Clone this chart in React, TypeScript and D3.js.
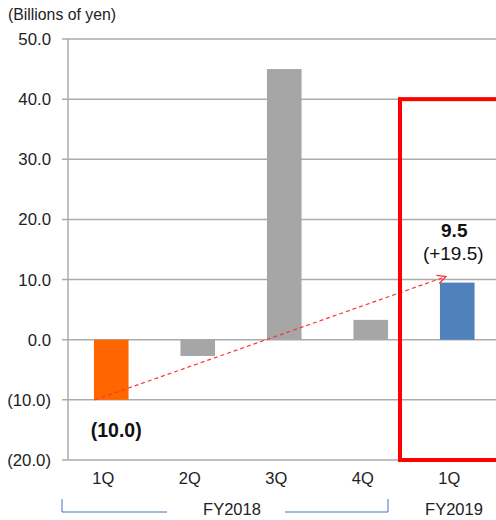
import * as d3 from 'd3';
import { useEffect, useRef } from 'react';

const categories = ['1Q', '2Q', '3Q', '4Q', '1Q '];
const values = [-10.0, -2.7, 45.0, 3.3, 9.5];
const barColors = ['#FF6600', '#A6A6A6', '#A6A6A6', '#A6A6A6', '#4F81BD'];
const yTicks = [50, 40, 30, 20, 10, 0, -10, -20];
const fyLabels = ['FY2018', 'FY2019'];

const fmt = (v: number) => (v < 0 ? `(${Math.abs(v).toFixed(1)})` : v.toFixed(1));

export default function App() {
    const ref = useRef<SVGSVGElement | null>(null);

    useEffect(() => {
        const svg = d3.select(ref.current);
        svg.selectAll('*').remove();

        const width = 496;
        const height = 520;
        const margin = { top: 39, left: 68, bottom: 60 };

        svg.attr('width', width).attr('height', height)
            .style('font-family', '"Liberation Sans", Arial, sans-serif');

        const x = d3.scaleBand()
            .domain(categories)
            .range([margin.left, margin.left + 86.5 * 5])
            .paddingInner(0.6)
            .paddingOuter(0.3);

        const y = d3.scaleLinear()
            .domain([-20, 50])
            .range([height - margin.bottom, margin.top]);

        // title
        svg.append('text')
            .attr('x', 8).attr('y', 20)
            .attr('font-size', 15.8).attr('fill', '#222')
            .text('(Billions of yen)');

        // gridlines
        svg.append('g').selectAll('line')
            .data(yTicks)
            .join('line')
            .attr('x1', margin.left - 6).attr('x2', width)
            .attr('y1', d => y(d)).attr('y2', d => y(d))
            .attr('stroke', '#ABABAB').attr('stroke-width', 1.5);

        svg.append('line')
            .attr('x1', margin.left).attr('x2', margin.left)
            .attr('y1', y(50)).attr('y2', y(-20))
            .attr('stroke', '#ABABAB').attr('stroke-width', 1.5);

        svg.append('g').selectAll('text')
            .data(yTicks)
            .join('text')
            .attr('x', 51).attr('y', d => y(d) + 6)
            .attr('text-anchor', 'end').attr('font-size', 16.8).attr('fill', '#222')
            .text(d => fmt(d));

        // bars
        svg.append('g').selectAll('rect')
            .data(values)
            .join('rect')
            .attr('x', (_, i) => x(categories[i])!)
            .attr('width', x.bandwidth())
            .attr('y', d => y(Math.max(0, d)))
            .attr('height', d => Math.abs(y(d) - y(0)))
            .attr('fill', (_, i) => barColors[i]);

        // category labels
        svg.append('g').selectAll('text')
            .data(categories)
            .join('text')
            .attr('x', d => x(d)! + x.bandwidth() / 2 - 8)
            .attr('y', 484)
            .attr('text-anchor', 'middle').attr('font-size', 16.5).attr('fill', '#222')
            .text(d => d.trim());

        // dashed arrow
        const defs = svg.append('defs');
        defs.append('marker')
            .attr('id', 'arrow')
            .attr('viewBox', '0 0 10 10')
            .attr('refX', 9).attr('refY', 5)
            .attr('markerWidth', 9).attr('markerHeight', 9)
            .attr('orient', 'auto')
            .append('path')
            .attr('d', 'M1,1 L9,5 L1,9')
            .attr('fill', 'none').attr('stroke', '#FF3333').attr('stroke-width', 1.2);

        svg.append('line')
            .attr('x1', x(categories[0])! + 1).attr('y1', y(values[0]))
            .attr('x2', x(categories[4])! + 6).attr('y2', y(10.5))
            .attr('stroke', '#FF3333').attr('stroke-width', 1.2)
            .attr('stroke-dasharray', '4,3')
            .attr('marker-end', 'url(#arrow)');

        // value labels
        svg.append('text')
            .attr('x', x(categories[0])! + x.bandwidth() / 2 + 5).attr('y', 437)
            .attr('text-anchor', 'middle').attr('font-size', 19.5).attr('font-weight', 'bold').attr('fill', '#111')
            .text(fmt(values[0]));

        const cx5 = x(categories[4])! + x.bandwidth() / 2;
        svg.append('text')
            .attr('x', cx5 - 3).attr('y', 237)
            .attr('text-anchor', 'middle').attr('font-size', 19).attr('font-weight', 'bold').attr('fill', '#111')
            .text(values[4].toFixed(1));
        svg.append('text')
            .attr('x', cx5 - 4).attr('y', 260)
            .attr('text-anchor', 'middle').attr('font-size', 19).attr('fill', '#111')
            .text(`(+${(values[4] - values[0]).toFixed(1)})`);

        // red highlight box
        svg.append('rect')
            .attr('x', 400).attr('y', y(40))
            .attr('width', 120).attr('height', y(-20) - y(40))
            .attr('fill', 'none').attr('stroke', '#FF0000').attr('stroke-width', 4);

        // fiscal-year brackets
        const bracket = svg.append('g').attr('stroke', '#4472C4').attr('stroke-width', 1).attr('fill', 'none');
        bracket.append('path').attr('d', 'M62,499 V512 H167');
        bracket.append('path').attr('d', 'M285,512 H388 V499');

        svg.append('text')
            .attr('x', 232).attr('y', 515)
            .attr('text-anchor', 'middle').attr('font-size', 16.5).attr('fill', '#222')
            .text(fyLabels[0]);
        svg.append('text')
            .attr('x', 454).attr('y', 515)
            .attr('text-anchor', 'middle').attr('font-size', 16.5).attr('fill', '#222')
            .text(fyLabels[1]);
    }, []);

    return <svg ref={ref} style={{ position: 'absolute', left: 0, top: 0 }}></svg>;
}
